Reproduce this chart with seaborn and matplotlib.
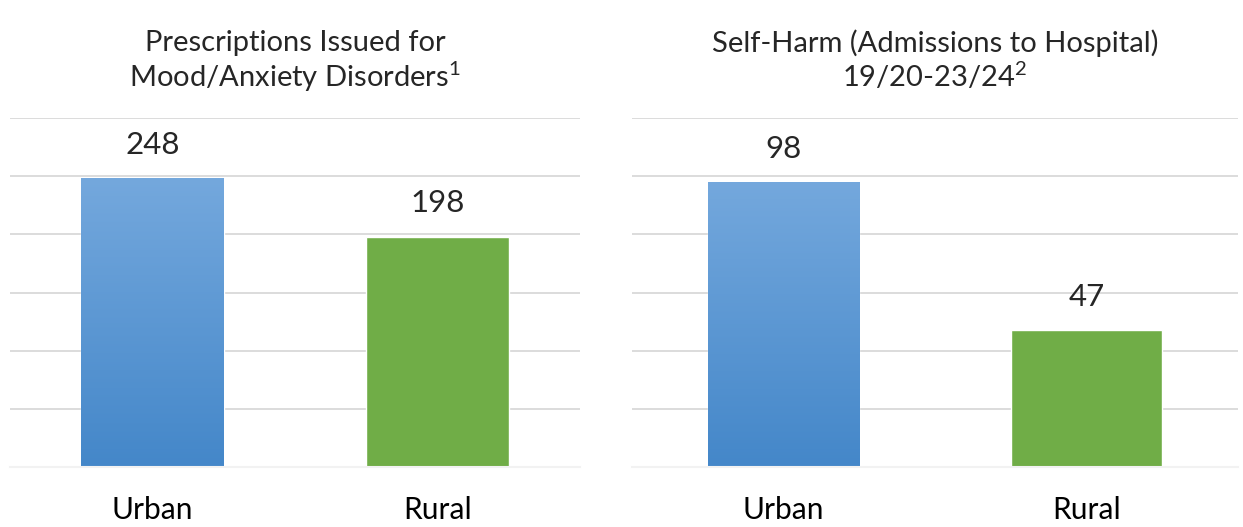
import matplotlib
matplotlib.use("Agg")
import matplotlib.pyplot as plt
import matplotlib.colors as mcolors
import numpy as np
import pandas as pd
import seaborn as sns

# data
areas = ["Urban", "Rural"]
prescriptions = [248, 198]
self_harm = [98, 47]
titles = ["Prescriptions Issued for\nMood/Anxiety Disorders$^{1}$",
          "Self-Harm (Admissions to Hospital)\n19/20-23/24$^{2}$"]
y_max = [300, 120]
y_step = [50, 20]

sns.set_theme(style="white")
plt.rcParams["font.family"] = ["Lato", "DejaVu Sans"]
plt.rcParams["mathtext.fontset"] = "custom"
plt.rcParams["mathtext.rm"] = "Lato"
plt.rcParams["mathtext.it"] = "Lato"
plt.rcParams["mathtext.default"] = "rm"

fig = plt.figure(figsize=(12.43, 5.27), dpi=100)
W, H = 1243, 527
ax1 = fig.add_axes([10 / W, (H - 467) / H, 570 / W, 349 / H])
ax2 = fig.add_axes([632 / W, (H - 467) / H, 606 / W, 349 / H])

blue_grad = mcolors.LinearSegmentedColormap.from_list("bg", ["#4487C9", "#74A8DD"])
palette = {"Urban": "#5B9BD5", "Rural": "#70AD47"}

for ax, vals, title, ymax, step in zip([ax1, ax2], [prescriptions, self_harm], titles, y_max, y_step):
    df = pd.DataFrame({"area": areas, "value": vals})
    sns.barplot(data=df, x="area", y="value", hue="area", palette=palette,
                width=0.5, ax=ax, legend=False, saturation=1)
    ax.set_ylim(0, ymax)
    ax.set_yticks(np.arange(0, ymax + 1, step))
    ax.yaxis.grid(True, color="#D9D9D9", lw=1.3)
    ax.set_axisbelow(True)
    ax.tick_params(axis="y", left=False, labelleft=False)
    ax.tick_params(axis="x", bottom=False, labelsize=21.5, pad=15, colors="black")
    for s in ["left", "right", "top"]:
        ax.spines[s].set_visible(False)
    ax.spines["bottom"].set_color("#F2F2F2")
    ax.spines["bottom"].set_linewidth(1.5)
    ax.set_xlabel("")
    ax.set_ylabel("")
    ax.set_title(title, fontsize=21, pad=22, linespacing=1.15)

    # gradient on the urban bar, value labels on both
    for patch, v in zip(ax.patches, vals):
        x0, y0 = patch.get_x(), patch.get_y()
        w, h = patch.get_width(), patch.get_height()
        if patch.get_facecolor()[:3] == mcolors.to_rgb(palette["Urban"]):
            grad = np.linspace(0, 1, 256).reshape(-1, 1)
            im = ax.imshow(grad, cmap=blue_grad, aspect="auto", origin="lower",
                           extent=[x0, x0 + w, y0, y0 + h], zorder=patch.get_zorder() + 0.1)
            im.set_clip_path(patch)
        ax.annotate(str(v), (x0 + w / 2, y0 + h), xytext=(0, 14), textcoords="offset points",
                    ha="center", va="bottom", fontsize=22.5)
    ax.set_xlim(-0.5, 1.5)

fig.savefig("out.png", dpi=100)
